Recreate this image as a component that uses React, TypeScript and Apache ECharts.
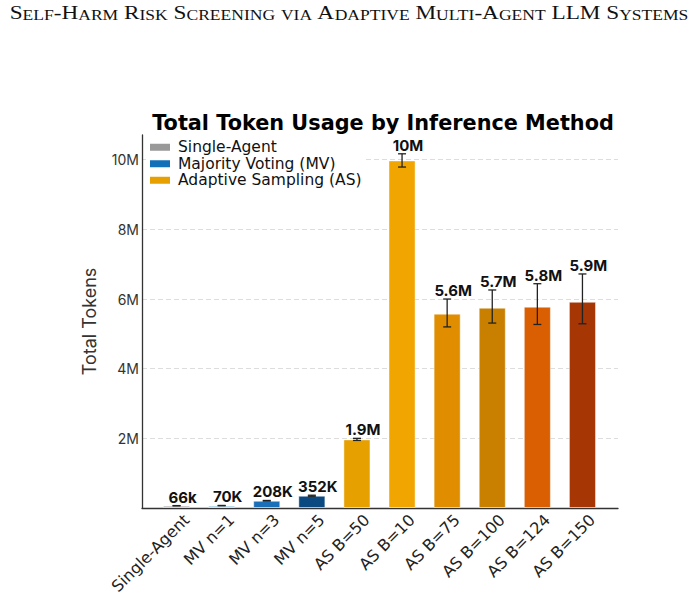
import React, { useEffect, useRef } from 'react';
import * as echarts from 'echarts';

const categories = ['Single-Agent', 'MV n=1', 'MV n=3', 'MV n=5', 'AS B=50', 'AS B=10', 'AS B=75', 'AS B=100', 'AS B=124', 'AS B=150'];
const tokens = [66000, 70000, 208000, 352000, 1970000, 9980000, 5580000, 5750000, 5780000, 5920000];
const errLow = [3000, 3000, 8000, 15000, 30000, 190000, 380000, 440000, 510000, 630000];
const errHigh = [3000, 3000, 8000, 15000, 30000, 190000, 420000, 510000, 660000, 800000];
const valueLabels = ['66k', '70K', '208K', '352K', '1.9M', '10M', '5.6M', '5.7M', '5.8M', '5.9M'];
const barColors = ['#a3a3a3', '#9ecae1', '#1a70b8', '#0b4a80', '#e6a000', '#f0a500', '#e08e00', '#c98000', '#d95f02', '#a63603'];
const legendNames = ['Single-Agent', 'Majority Voting (MV)', 'Adaptive Sampling (AS)'];
const legendColors = ['#999999', '#1170b8', '#e6a000'];
const yMax = 10710000;
const yStep = 2000000;

const suptitle = 'Self-Harm Risk Screening via Adaptive Multi-Agent LLM Systems';
const chartTitle = 'Total Token Usage by Inference Method';
const yAxisName = 'Total Tokens';

const FONT = 'Inter';

function smallCaps(s: string): string {
  let out = '';
  let cur = '';
  let curStyle = '';
  const flush = () => {
    if (cur) out += `{${curStyle}|${cur}}`;
    cur = '';
  };
  for (const ch of s) {
    const isLower = ch >= 'a' && ch <= 'z';
    const st = isLower ? 'sc' : 'cap';
    if (st !== curStyle) {
      flush();
      curStyle = st;
    }
    cur += isLower ? ch.toUpperCase() : ch;
  }
  flush();
  return out;
}

export default function App() {
  const ref = useRef<HTMLDivElement>(null);
  useEffect(() => {
    if (!ref.current) return;
    const chart = echarts.init(ref.current, undefined, { renderer: 'svg' });
    const frame = { left: 142, right: 78, top: 135, bottom: 101 };
    const bars = { left: 154, right: 91, top: 135, bottom: 101 };
    const option: any = {
      animation: false,
      backgroundColor: '#ffffff',
      title: {
        text: chartTitle,
        left: 378,
        top: 107,
        textAlign: 'center',
        textStyle: { fontFamily: 'DejaVu Sans', fontWeight: 'bold', fontSize: 20.8, color: '#000' },
      },
      legend: {
        orient: 'vertical',
        left: 146,
        top: 137,
        padding: [2, 4],
        backgroundColor: '#ffffff',
        itemWidth: 20,
        itemHeight: 7,
        itemGap: 0,
        icon: 'rect',
        data: legendNames,
        textStyle: { fontFamily: 'DejaVu Sans', fontSize: 15.5, lineHeight: 16.5, color: '#111', padding: [0, 0, 0, 3] },
      },
      grid: [
        { ...frame, containLabel: false },
        { ...bars, containLabel: false },
      ],
      xAxis: [
        {
          type: 'value', gridIndex: 0, min: 0, max: 1,
          axisLine: { show: true, lineStyle: { color: '#333', width: 1.3 } },
          axisTick: { show: false }, axisLabel: { show: false }, splitLine: { show: false },
        },
        {
          type: 'category', gridIndex: 1, data: categories,
          axisLine: { show: false }, axisTick: { show: false },
          axisLabel: { rotate: 45, margin: 19, padding: [0, -14, 0, 0], fontFamily: 'DejaVu Sans', fontSize: 16, color: '#222', interval: 0 },
        },
      ],
      yAxis: [
        {
          type: 'value', gridIndex: 0, min: 0, max: yMax, interval: yStep,
          name: yAxisName, nameLocation: 'middle', nameGap: 44,
          nameTextStyle: { fontFamily: FONT, fontSize: 18, color: '#333' },
          axisLine: { show: true, lineStyle: { color: '#333', width: 1.3 } },
          axisTick: { show: false },
          axisLabel: {
            margin: 3, fontFamily: FONT, fontSize: 14, color: '#333',
            formatter: (v: number) => (v === 0 || v % yStep !== 0 ? '' : `${v / 1e6}M`),
          },
          splitLine: { show: true, showMinLine: false, showMaxLine: false, lineStyle: { color: '#dddddd', type: [5, 3], width: 1 } },
        },
        {
          type: 'value', gridIndex: 1, min: 0, max: yMax,
          axisLine: { show: false }, axisTick: { show: false }, axisLabel: { show: false }, splitLine: { show: false },
        },
      ],
      series: [
        {
          type: 'bar', name: 'tokens', xAxisIndex: 1, yAxisIndex: 1, stack: 'all', barWidth: '60%',
          data: tokens.map((v, i) => ({ value: v, itemStyle: { color: barColors[i] } })),
          itemStyle: { borderColor: 'rgba(255,255,255,0.45)', borderWidth: 1 },
          z: 2,
        },
        ...legendNames.map((n, k) => ({
          type: 'bar', name: n, xAxisIndex: 1, yAxisIndex: 1, stack: 'all', data: [],
          itemStyle: { color: legendColors[k] },
        })),
        {
          type: 'custom', name: 'err', xAxisIndex: 1, yAxisIndex: 1, z: 5,
          data: tokens.map((v, i) => [i, v, errLow[i], errHigh[i]]),
          encode: { x: 0, y: 1 },
          renderItem: (params: any, api: any) => {
            const i = api.value(0);
            const v = api.value(1);
            const lo = api.value(2);
            const hi = api.value(3);
            const top = api.coord([i, v + hi]);
            const bot = api.coord([i, v - lo]);
            const x = top[0];
            const cap = 4;
            const st = { stroke: '#222', lineWidth: 1.3 };
            return {
              type: 'group',
              children: [
                { type: 'line', shape: { x1: x, y1: top[1], x2: x, y2: bot[1] }, style: st },
                { type: 'line', shape: { x1: x - cap, y1: top[1], x2: x + cap, y2: top[1] }, style: st },
                { type: 'line', shape: { x1: x - cap, y1: bot[1], x2: x + cap, y2: bot[1] }, style: st },
                {
                  type: 'text',
                  style: {
                    text: valueLabels[params.dataIndex], x: x + 6, y: top[1] - 1,
                    align: 'center', verticalAlign: 'bottom',
                    font: `bold 15px ${FONT}`, fill: '#111',
                  },
                },
              ],
            };
          },
        },
      ],
      graphic: [
        {
          type: 'text', x: 349, y: 2, scaleX: 1.29, scaleY: 1,
          style: {
            text: smallCaps(suptitle),
            fill: '#111',
            align: 'center',
            verticalAlign: 'top',
            rich: {
              cap: { fontFamily: 'Liberation Serif', fontSize: 18, color: '#111', verticalAlign: 'bottom', lineHeight: 20 },
              sc: { fontFamily: 'Liberation Serif', fontSize: 13.6, color: '#111', verticalAlign: 'bottom', lineHeight: 20 },
            },
          },
        },
      ],
    };
    chart.setOption(option);
    return () => chart.dispose();
  }, []);
  return <div ref={ref} style={{ position: 'fixed', left: 0, top: 0, width: 696, height: 609 }} />;
}
